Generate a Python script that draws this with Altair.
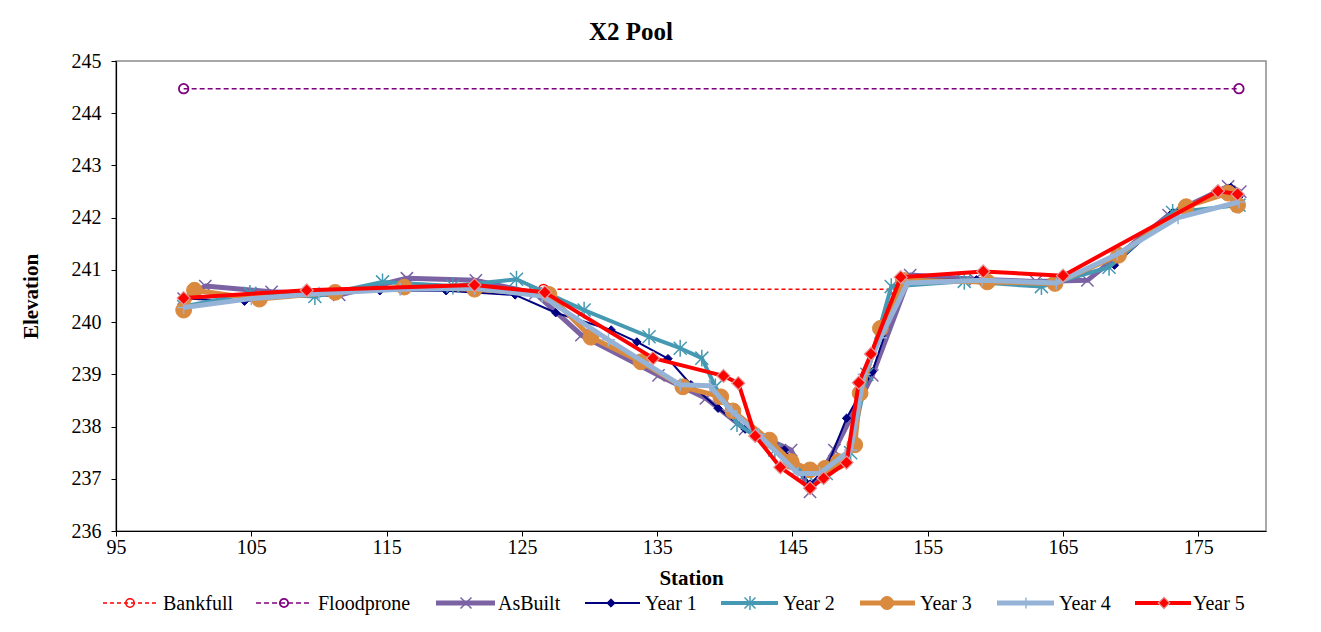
import altair as alt
import pandas as pd

FONT = "Liberation Serif"

chart_title = "X2 Pool"
x_title = "Station"
y_title = "Elevation"
x_ticks = [95, 105, 115, 125, 135, 145, 155, 165, 175]
y_ticks = [236, 237, 238, 239, 240, 241, 242, 243, 244, 245]

# Reference elevations
bankfull_station = [126.6, 152.6]
bankfull_elev = [240.63, 240.63]
floodprone_station = [100.0, 178.0]
floodprone_elev = [244.47, 244.47]

# Surveyed cross-section, one list pair per survey
asbuilt_station = [100.0, 101.6, 106.5, 111.5, 116.5, 121.6, 126.0, 129.4, 135.1, 138.6,
                   141.5, 144.9, 146.3, 148.1, 150.9, 153.7, 158.5, 163.0, 166.8, 172.8,
                   177.2, 178.1]
asbuilt_elev = [240.45, 240.69, 240.58, 240.52, 240.84, 240.80, 240.55, 239.75, 238.98, 238.54,
                237.95, 237.55, 236.75, 237.55, 238.98, 240.90, 240.82, 240.78, 240.80, 242.05,
                242.60, 242.50]

year1_station = [100.0, 104.5, 109.5, 114.5, 119.4, 124.5, 127.5, 131.6, 133.5, 135.8,
                 137.5, 139.5, 141.5, 144.4, 146.3, 147.5, 149.0, 150.9, 153.2, 158.6,
                 164.0, 168.8, 173.1, 177.4, 178.0]
year1_elev = [240.45, 240.40, 240.55, 240.60, 240.60, 240.52, 240.18, 239.85, 239.62, 239.30,
              238.80, 238.35, 237.95, 237.55, 236.90, 237.20, 238.16, 239.05, 240.82, 240.81,
              240.75, 241.09, 242.10, 242.58, 242.40]

year2_station = [100.0, 104.9, 109.7, 114.7, 119.9, 124.6, 129.6, 134.4, 136.7, 138.3,
                 139.3, 140.9, 143.7, 146.0, 147.5, 149.3, 150.5, 152.3, 157.7, 163.4,
                 168.4, 173.1, 178.0]
year2_elev = [240.30, 240.55, 240.49, 240.77, 240.69, 240.82, 240.23, 239.72, 239.50, 239.31,
              238.76, 238.06, 237.55, 237.10, 237.10, 237.50, 239.00, 240.68, 240.78, 240.68,
              241.05, 242.10, 242.24]

year3_station = [100.0, 100.8, 105.6, 111.2, 116.3, 121.5, 127.0, 130.1, 133.8, 136.9,
                 139.7, 140.6, 143.3, 144.9, 146.3, 147.4, 148.4, 149.6, 150.0, 151.5,
                 153.2, 159.4, 164.4, 169.1, 174.1, 177.2, 177.9]
year3_elev = [240.23, 240.61, 240.44, 240.57, 240.67, 240.63, 240.53, 239.71, 239.24, 238.76,
              238.57, 238.30, 237.74, 237.33, 237.17, 237.20, 237.33, 237.65, 238.64, 239.88,
              240.80, 240.77, 240.74, 241.28, 242.21, 242.47, 242.24]

year4_station = [100.0, 105.0, 110.0, 116.0, 121.5, 126.5, 131.4, 136.7, 138.9, 140.5,
                 142.5, 145.4, 147.0, 149.3, 150.3, 151.5, 153.5, 159.0, 164.5, 169.0,
                 173.5, 178.0]
year4_elev = [240.28, 240.45, 240.55, 240.63, 240.65, 240.50, 239.66, 238.80, 238.78, 238.30,
              237.85, 237.10, 237.10, 237.55, 239.00, 239.70, 240.75, 240.80, 240.75, 241.30,
              242.00, 242.30]

year5_station = [100.0, 109.1, 121.5, 126.7, 134.7, 139.9, 141.0, 142.25, 144.1, 146.3,
                 147.3, 149.0, 149.9, 150.8, 153.0, 159.1, 165.0, 176.45, 177.9]
year5_elev = [240.46, 240.61, 240.71, 240.57, 239.31, 238.97, 238.83, 237.82, 237.22, 236.82,
              237.01, 237.31, 238.84, 239.39, 240.86, 240.97, 240.89, 242.51, 242.45]

# Marker glyphs drawn as stroked paths
X_PATH = "M-1,-1L1,1M-1,1L1,-1"
STAR_PATH = "M-1,-1L1,1M-1,1L1,-1M0,-1.3L0,1.3"
PLUS_PATH = "M-1,0L1,0M0,-1L0,1"

series = [
    ("Bankfull", bankfull_station, bankfull_elev,
     dict(color="#FF0000", width=1.5, dash=[4, 3], shape="circle", size=90,
          fill=None, stroke="#FF0000", sw=1.5, msize=70)),
    ("Floodprone", floodprone_station, floodprone_elev,
     dict(color="#800080", width=1.5, dash=[5, 3], shape="circle", size=90,
          fill=None, stroke="#800080", sw=1.8, msize=70)),
    ("AsBuilt", asbuilt_station, asbuilt_elev,
     dict(color="#7A62A3", width=5, dash=None, shape=X_PATH, size=150,
          fill=None, stroke="#7A62A3", sw=1.5, msize=120)),
    ("Year 1", year1_station, year1_elev,
     dict(color="#000080", width=2, dash=None, shape="diamond", size=70,
          fill="#000080", stroke="#000080", sw=1, msize=70)),
    ("Year 2", year2_station, year2_elev,
     dict(color="#4699B2", width=4, dash=None, shape=STAR_PATH, size=170,
          fill=None, stroke="#4699B2", sw=1.5, msize=120)),
    ("Year 3", year3_station, year3_elev,
     dict(color="#DA8A3F", width=5, dash=None, shape="circle", size=250,
          fill="#DA8A3F", stroke="#DA8A3F", sw=1, msize=170)),
    ("Year 4", year4_station, year4_elev,
     dict(color="#95B3D7", width=5, dash=None, shape=PLUS_PATH, size=170,
          fill=None, stroke="#95B3D7", sw=1.5, msize=120)),
    ("Year 5", year5_station, year5_elev,
     dict(color="#FF0000", width=4, dash=None, shape="diamond", size=170,
          fill="#FF0000", stroke="#E49A9A", sw=1.2, msize=130)),
]

# Legend layout (pixels from the plot's left edge)
legend_line_start = [-13, 140, 320, 469, 605, 744, 881, 1019]
legend_line_end = [43, 196, 379, 524, 662, 799, 938, 1075]
legend_marker_x = [14, 168, 350, 495, 634, 771, 910, 1048]
legend_text_x = [47, 202, 382, 529, 667, 804, 943, 1077]

PLOT_W, PLOT_H = 1150, 470

x_scale = alt.Scale(domain=[95, 180], nice=False, zero=False)
y_scale = alt.Scale(domain=[236, 245], nice=False, zero=False)
x_axis = alt.Axis(values=x_ticks, grid=False, title=x_title, tickSize=5, labelPadding=1,
                  titlePadding=10, labelFlush=False)
y_axis = alt.Axis(values=y_ticks, grid=False, title=y_title, tickSize=5, labelPadding=10,
                  titlePadding=30, labelFlush=False, format="d")


def marker_kwargs(sty, size):
    kw = dict(shape=sty["shape"], size=size, opacity=1, strokeWidth=sty["sw"],
              stroke=sty["stroke"])
    if sty["fill"] is not None:
        kw.update(filled=True, fill=sty["fill"], fillOpacity=1)
    else:
        kw.update(filled=False)
    return kw


layers = []
for name, st, el, sty in series:
    df = pd.DataFrame({"station": st, "elevation": el, "idx": list(range(len(st)))})
    base = alt.Chart(df).encode(
        x=alt.X("station:Q", scale=x_scale, axis=x_axis),
        y=alt.Y("elevation:Q", scale=y_scale, axis=y_axis),
        order=alt.Order("idx:Q"),
    )
    line_kw = dict(color=sty["color"], strokeWidth=sty["width"], strokeJoin="round")
    if sty["dash"]:
        line_kw["strokeDash"] = sty["dash"]
    layers.append(base.mark_line(**line_kw))
    layers.append(base.mark_point(**marker_kwargs(sty, sty["size"])))

main = alt.layer(*layers).properties(
    width=PLOT_W, height=PLOT_H,
    view=alt.ViewBackground(stroke="#8C8C8C", strokeWidth=1.5),
)

# Legend row
leg_layers = []
lx_scale = alt.Scale(domain=[0, PLOT_W], nice=False, zero=False)
ly_scale = alt.Scale(domain=[-1, 1])
for i, (name, st, el, sty) in enumerate(series):
    ldf = pd.DataFrame({"x0": [legend_line_start[i]], "x1": [legend_line_end[i]],
                        "xm": [legend_marker_x[i]], "xt": [legend_text_x[i]],
                        "y": [0], "label": [name]})
    lb = alt.Chart(ldf)
    rule_kw = dict(color=sty["color"], strokeWidth=sty["width"])
    if sty["dash"]:
        rule_kw["strokeDash"] = sty["dash"]
    leg_layers.append(lb.mark_rule(**rule_kw).encode(
        x=alt.X("x0:Q", scale=lx_scale, axis=None), x2="x1:Q",
        y=alt.Y("y:Q", scale=ly_scale, axis=None)))
    leg_layers.append(lb.mark_point(**marker_kwargs(sty, sty["msize"])).encode(
        x=alt.X("xm:Q", scale=lx_scale, axis=None),
        y=alt.Y("y:Q", scale=ly_scale, axis=None)))
    leg_layers.append(lb.mark_text(align="left", baseline="middle", font=FONT, fontSize=20,
                                   color="black", dy=1).encode(
        x=alt.X("xt:Q", scale=lx_scale, axis=None),
        y=alt.Y("y:Q", scale=ly_scale, axis=None),
        text="label:N"))

legend_row = alt.layer(*leg_layers).properties(
    width=PLOT_W, height=16,
    view=alt.ViewBackground(strokeOpacity=0),
)

chart = alt.vconcat(main, legend_row, spacing=3).properties(
    title=alt.TitleParams(chart_title, font=FONT, fontSize=25, fontWeight="bold",
                          color="black", anchor="middle", offset=5, dx=-12),
    padding={"left": 19, "top": 20, "right": 40, "bottom": 8},
    background="white",
).configure(
    font=FONT,
).configure_axis(
    labelFont=FONT, titleFont=FONT, labelFontSize=20, titleFontSize=21,
    titleFontWeight="bold", labelColor="black", titleColor="black",
    domainColor="black", tickColor="black", domainWidth=1.2, tickWidth=1,
).configure_concat(spacing=3)

chart.save("out.html", embed_options={"renderer": "svg", "actions": False})
